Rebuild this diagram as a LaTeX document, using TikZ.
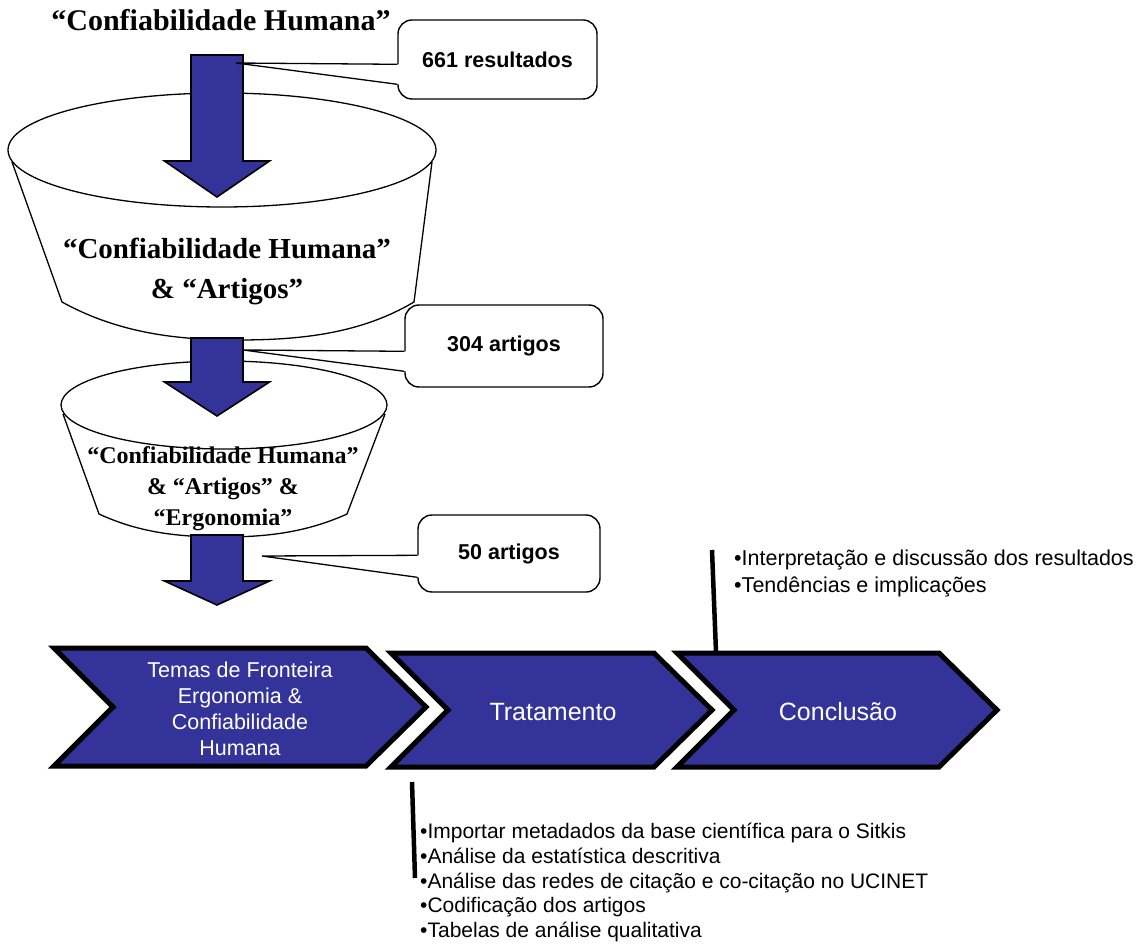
\documentclass[tikz,border=0pt]{standalone}
\usepackage{fontspec}
\setmainfont{Liberation Serif}
\setsansfont{Liberation Sans}
\usetikzlibrary{calc}
\definecolor{flowblue}{RGB}{51,51,153}

\tikzset{
  funnelline/.style={draw=black, line width=1.3pt, line join=round},
  flowarrow/.style={fill=flowblue, draw=black, line width=1.6pt, line join=miter},
  calloutbox/.style={draw=black, line width=1.4pt, fill=white, rounded corners=14pt,
    inner sep=0pt, font=\sffamily\bfseries\fontsize{21.5}{24}\selectfont},
  pointerline/.style={draw=black, line width=1.3pt},
  chevron/.style={fill=flowblue, draw=black, line width=5pt, line join=miter, miter limit=10},
  chevtext/.style={text=white, align=center, inner sep=0pt},
  serifhead/.style={font=\bfseries\fontsize{30}{40}\selectfont, align=center, inner sep=0pt},
  bullets/.style={align=left, anchor=north west, inner sep=0pt},
  marker/.style={draw=black, line width=4.5pt},
  pics/downarrow/.style n args={2}{code={
    \path[flowarrow] (-26,0) -- (26,0) -- (26,#1) -- (52.5,#1) -- (0,{#1+#2})
      -- (-52.5,#1) -- (-26,#1) -- cycle;
  }},
}

\begin{document}
\begin{tikzpicture}[x=1pt,y=-1pt]
\useasboundingbox[fill=white] (0,0) rectangle (1145,949);

% search keyword
\node[serifhead] (kw) at (221,20) {“Confiabilidade Humana”};

% first funnel
\fill[white] (12,162) -- (62,302) .. controls (120,334) and (180,340) .. (238,340)
  .. controls (300,340) and (360,334) .. (414,302) -- (432,162) -- (432,150) -- (12,150) -- cycle;
\draw[funnelline] (12,162) -- (62,302) .. controls (120,334) and (180,340) .. (238,340)
  .. controls (300,340) and (360,334) .. (414,302) -- (432,162);
\draw[funnelline, fill=white] (222,150) ellipse [x radius=214, y radius=57];
\node[serifhead, font=\bfseries\fontsize{29}{40}\selectfont] (f1) at (227,271)
  {“Confiabilidade Humana”\\\& “Artigos”};

% second funnel
\fill[white] (63,414) -- (99,514) .. controls (140,533) and (180,537) .. (223,537)
  .. controls (265,537) and (305,533) .. (347,514) -- (385,414) -- (385,405) -- (63,405) -- cycle;
\draw[funnelline] (63,414) -- (99,514) .. controls (140,533) and (180,537) .. (223,537)
  .. controls (265,537) and (305,533) .. (347,514) -- (385,414);
\draw[funnelline, fill=white] (224,405) ellipse [x radius=163, y radius=44];
\node[serifhead, font=\bfseries\fontsize{24}{31}\selectfont] (f2) at (223,489)
  {“Confiabilidade Humana”\\\& “Artigos” \&\\“Ergonomia”};

% downward flow arrows
\pic at (217,55) {downarrow={106}{36}};
\pic at (217,338) {downarrow={44}{34}};
\pic at (217,535) {downarrow={46}{24}};

% callout: 661
\node[calloutbox, minimum width=199pt, minimum height=79pt] (c1) at (497.5,59.5) {661 resultados};
\coordinate (t1) at (236,63);
\coordinate (a1) at ($(c1.north west)+(0,45)$);
\coordinate (b1) at ($(c1.north west)+(0,65)$);
\fill[white] (t1) -- ($(a1)+(1.6,0)$) -- ($(b1)+(1.6,0)$) -- cycle;
\draw[pointerline] (a1) -- (t1) -- (b1);

% callout: 304
\node[calloutbox, minimum width=198pt, minimum height=82pt] (c2) at (504,346) {304 artigos};
\coordinate (t2) at (243,350);
\coordinate (a2) at ($(c2.north west)+(0,47)$);
\coordinate (b2) at ($(c2.north west)+(0,67)$);
\fill[white] (t2) -- ($(a2)+(1.6,0)$) -- ($(b2)+(1.6,0)$) -- cycle;
\draw[pointerline] (a2) -- (t2) -- (b2);

% callout: 50
\node[calloutbox, minimum width=182pt, minimum height=77pt] (c3) at (509,553.5) {50 artigos};
\coordinate (t3) at (262,556);
\coordinate (a3) at ($(c3.north west)+(0,41)$);
\coordinate (b3) at ($(c3.north west)+(0,63)$);
\fill[white] (t3) -- ($(a3)+(1.6,0)$) -- ($(b3)+(1.6,0)$) -- cycle;
\draw[pointerline] (a3) -- (t3) -- (b3);

% process chevrons
\path[chevron] (54,648) -- (366,648) -- (426,707) -- (366,766) -- (54,766) -- (113,707) -- cycle;
\path[chevron] (391,653) -- (654,653) -- (712,710) -- (654,767) -- (391,767) -- (448,710) -- cycle;
\path[chevron] (677,653) -- (939,653) -- (997,710) -- (939,767) -- (677,767) -- (734,710) -- cycle;

\node[chevtext, font=\sffamily\fontsize{21.5}{26}\selectfont] (s1) at (240,709)
  {Temas de Fronteira\\Ergonomia \&\\Confiabilidade\\Humana};
\node[chevtext, font=\sffamily\fontsize{25}{28}\selectfont] (s2) at (553,712) {Tratamento};
\node[chevtext, font=\sffamily\fontsize{25}{28}\selectfont] (s3) at (838,712) {Conclusão};

% notes attached to the stages
\coordinate (m1top) at (712,550);
\coordinate (m1bot) at (716,652);
\draw[marker] (m1top) -- (m1bot);
\node[bullets, font=\sffamily\fontsize{21.5}{27}\selectfont] (n1) at (734,550)
  {•Interpretação e discussão dos resultados\\•Tendências e implicações};

\coordinate (m2top) at (412,782);
\coordinate (m2bot) at (415,878);
\draw[marker] (m2top) -- (m2bot);
\node[bullets, font=\sffamily\fontsize{21}{24.75}\selectfont] (n2) at (420,823)
  {•Importar metadados da base científica para o Sitkis\\
   •Análise da estatística descritiva\\
   •Análise das redes de citação e co-citação no UCINET\\
   •Codificação dos artigos\\
   •Tabelas de análise qualitativa};
\end{tikzpicture}
\end{document}
